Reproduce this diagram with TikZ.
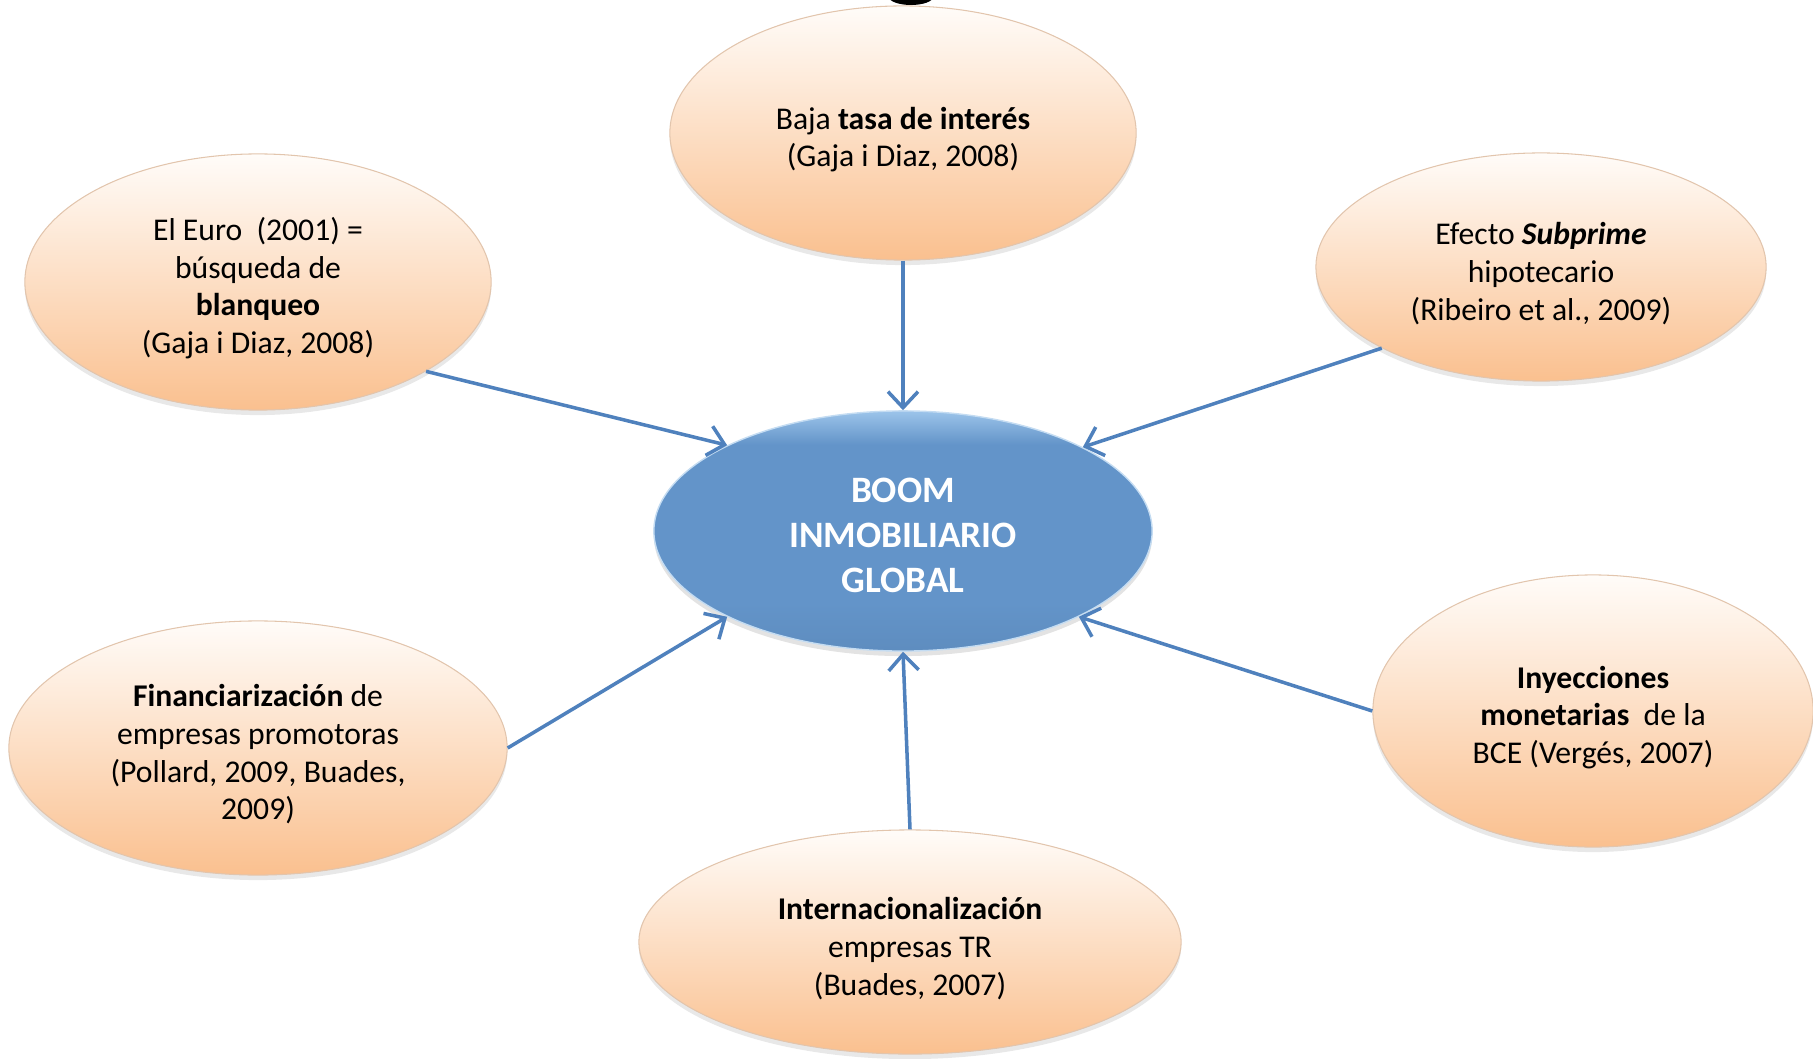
\documentclass[tikz,border=0pt]{standalone}
\usepackage{fontspec}
\setmainfont{Carlito}
\usepackage{tikz}
\usetikzlibrary{arrows.meta,shapes.geometric,shadows}
\definecolor{boomblue}{HTML}{6394C9}
\definecolor{boomlight}{HTML}{9CC4EA}
\definecolor{boomline}{HTML}{4F81BD}
\definecolor{peachtop}{HTML}{FFFCF9}
\definecolor{peachbot}{HTML}{FAC08F}
\pgfdeclareverticalshading{boomshade}{100bp}{color(0bp)=(boomblue!95!black); color(25bp)=(boomblue!95!black);
  color(35bp)=(boomblue); color(68bp)=(boomblue); color(75bp)=(boomlight); color(100bp)=(boomlight)}
\newcommand\baja[1]{\rule{0pt}{#1}}

\begin{document}
\begin{tikzpicture}[x=0.01cm,y=-0.01cm,
  causa/.style={ellipse,top color=peachtop,bottom color=peachbot,draw=peachbot!70!gray!70,line width=0.3pt,
    inner sep=0pt,align=center,font=\fontsize{9}{10.7}\selectfont,
    drop shadow={shadow xshift=0mm,shadow yshift=-0.5mm,opacity=0.18}},
  centro/.style={ellipse,shading=boomshade,
    draw=boomlight!60!white,line width=0.4pt,inner sep=0pt,align=center,text=white,
    font=\fontsize{10.6}{12.8}\selectfont\bfseries,
    drop shadow={shadow xshift=0mm,shadow yshift=-0.5mm,opacity=0.22}},
  flecha/.style={draw=boomline,line width=1pt,-{Straight Barb[length=1.6mm,width=3mm]}}]
\useasboundingbox (0,0) rectangle (1813,1058);
\fill (911,-3) ellipse [x radius=2.2mm,y radius=0.8mm];
% causas
\node[causa,minimum width=4.66cm,minimum height=2.54cm] (tasa) at (903,133) {\baja{10pt}Baja \textbf{tasa de interés}\\(Gaja i Diaz, 2008)};
\node[causa,minimum width=4.66cm,minimum height=2.56cm] (euro) at (258,282) {\baja{10pt}El Euro\ \ (2001) =\\búsqueda de\\\textbf{blanqueo}\\(Gaja i Diaz, 2008)};
\node[causa,minimum width=4.50cm,minimum height=2.28cm] (subprime) at (1541,267) {\baja{10pt}Efecto \textbf{\textit{Subprime}}\\hipotecario\\(Ribeiro et al., 2009)};
\node[causa,minimum width=4.98cm,minimum height=2.54cm] (finan) at (258,748) {\baja{10pt}\textbf{Financiarización} de\\empresas promotoras\\(Pollard, 2009, Buades,\\2009)};
\node[causa,minimum width=4.40cm,minimum height=2.72cm] (inyec) at (1593,711) {\baja{10pt}\textbf{Inyecciones}\\\textbf{monetarias}\ \ de la\\BCE (Vergés, 2007)};
\node[causa,minimum width=5.42cm,minimum height=2.24cm] (inter) at (910,942) {\baja{10pt}\textbf{Internacionalización}\\empresas TR\\(Buades, 2007)};
% centro
\node[centro,minimum width=4.98cm,minimum height=2.40cm] (boom) at (903,531) {\baja{9.5pt}BOOM\\INMOBILIARIO\\GLOBAL};
% flechas
\draw[flecha] (tasa.south) -- (boom.north);
\draw[flecha] (euro.-28.7) -- (boom.154);
\draw[flecha] (subprime.207) -- (boom.25.7);
\draw[flecha] (finan.east) -- (boom.206);
\draw[flecha] (inyec.west) -- (boom.334);
\draw[flecha] (inter.north) -- (boom.south);
\end{tikzpicture}
\end{document}
